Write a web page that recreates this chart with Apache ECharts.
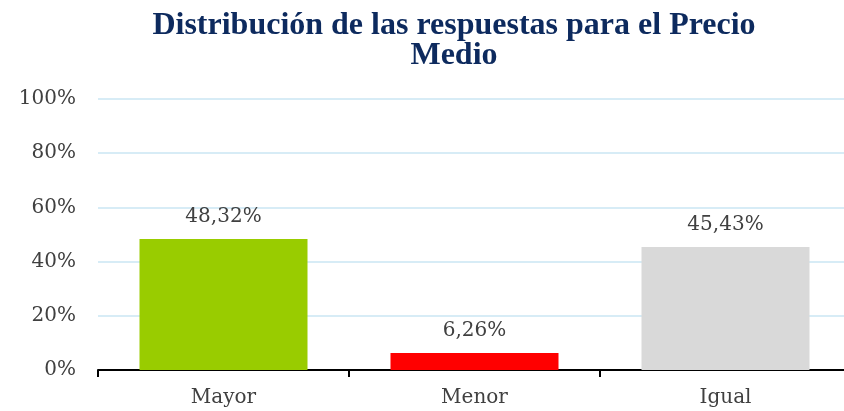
<!DOCTYPE html>
<html>
<head>
<meta charset="utf-8">
<script src="https://cdn.jsdelivr.net/npm/echarts@6/dist/echarts.min.js"></script>
<style>
  html, body { margin: 0; padding: 0; background: #fff; }
  #chart { width: 844px; height: 411px; }
</style>
</head>
<body>
<div id="chart"></div>
<script>
var titleText = 'Distribución de las respuestas para el Precio\nMedio';
var categories = ['Mayor', 'Menor', 'Igual'];
var values = [48.32, 6.26, 45.43];
var barColors = ['#99cc00', '#ff0000', '#d9d9d9'];
var yTicks = [0, 20, 40, 60, 80, 100];

var serif = '"DejaVu Serif", serif';
var chart = echarts.init(document.getElementById('chart'));

chart.setOption({
    animation: false,
    title: {
        text: titleText,
        left: 449,
        textAlign: 'center',
        top: 6,
        textStyle: {
            fontFamily: '"Liberation Serif", serif',
            fontWeight: 'bold',
            fontSize: 32,
            lineHeight: 30,
            color: '#0d2a5e'
        }
    },
    grid: { left: 98, top: 99, width: 753, height: 271, outerBoundsMode: 'none' },
    xAxis: {
        type: 'category',
        data: categories,
        axisLine: { lineStyle: { color: '#000', width: 2 } },
        axisTick: { show: true, length: 7, lineStyle: { color: '#000', width: 2 } },
        axisLabel: { fontFamily: serif, fontSize: 20, color: '#404040', margin: 18 }
    },
    yAxis: {
        type: 'value',
        min: yTicks[0],
        max: yTicks[yTicks.length - 1],
        interval: 20,
        axisLine: { show: false },
        axisTick: { show: false },
        splitLine: { lineStyle: { color: '#d7ecf6', width: 2 } },
        axisLabel: {
            fontFamily: serif, fontSize: 20, color: '#404040', margin: 22,
            formatter: function (v) { return v + '%'; }
        }
    },
    series: [{
        type: 'bar',
        barWidth: 168,
        data: values.map(function (v, i) {
            return { value: v, itemStyle: { color: barColors[i] } };
        }),
        label: {
            show: true,
            position: 'top',
            distance: 12,
            fontFamily: serif,
            fontSize: 20,
            color: '#404040',
            formatter: function (p) { return p.value.toFixed(2).replace('.', ',') + '%'; }
        }
    }]
});
</script>
</body>
</html>
